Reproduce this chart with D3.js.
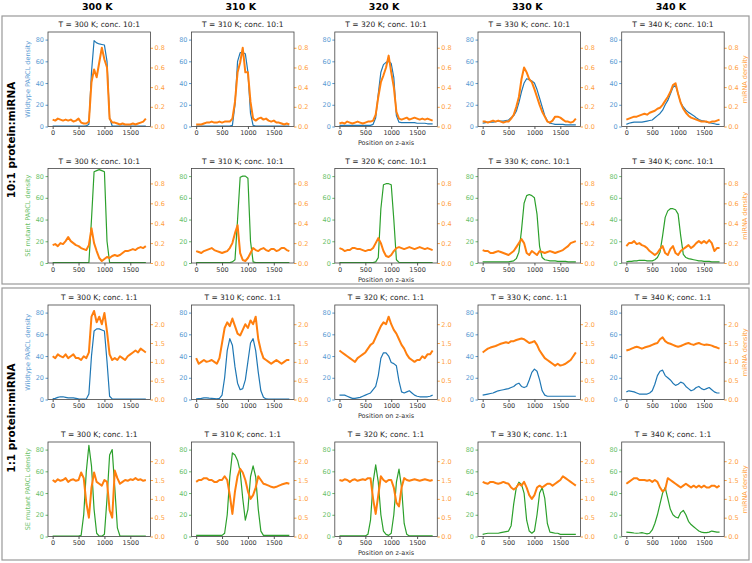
<!DOCTYPE html>
<html>
<head>
<meta charset="utf-8">
<script src="https://cdn.jsdelivr.net/npm/d3@7"></script>
<style>
  body { margin: 0; background: #fff; }
  text { font-family: "DejaVu Sans", sans-serif; }
</style>
</head>
<body>
<div id="chart"></div>
<script>
// position on z-axis for every sample
const zPos = [0,50,100,150,200,250,300,350,400,450,500,550,600,650,700,750,800,850,900,950,
              1000,1050,1100,1150,1200,1250,1300,1350,1400,1450,1500,1550,1600,1650,1700,1750,1800];
const temps = [300, 310, 320, 330, 340];
const xTicks = [0, 500, 1000, 1500];
const leftTicks = [0, 20, 40, 60, 80];
const rightTicks10 = [0, 0.2, 0.4, 0.6, 0.8];
const rightTicks1 = [0, 0.5, 1.0, 1.5, 2.0];

// ---- 10:1, wildtype PARCL (blue) + miRNA (orange)
const wt10_300 = [0.3,0.3,0.3,0.3,0.3,0.3,0.3,0.3,0.3,0.3, 0.3,0.3,0.3,0.5,2,50,79,77,76,75.5, 75,60,8,0.5,0.3,0.3,0.3,0.3,0.3,0.3, 0.3,0.3,0.3,0.3,0.3,0.3,0.3];
const mi10_300 = [0.07,0.06,0.08,0.07,0.06,0.07,0.06,0.07,0.05,0.06, 0.08,0.04,0.03,0.03,0.05,0.45,0.58,0.5,0.65,0.8, 0.68,0.6,0.08,0.04,0.04,0.03,0.02,0.03,0.02,0.02, 0.02,0.03,0.02,0.03,0.04,0.05,0.08];
const wt10_310 = [0.3,0.3,0.3,0.3,0.3,0.3,0.3,0.3,0.3,0.3, 0.3,0.3,0.3,0.3,1,20,60,68,68,67, 50,12,1,0.3,0.3,0.3,0.3,0.3,0.3,0.3, 0.3,0.3,0.3,0.3,0.3,0.3,0.3];
const mi10_310 = [0.02,0.02,0.02,0.03,0.04,0.04,0.05,0.04,0.04,0.05, 0.04,0.05,0.05,0.05,0.08,0.25,0.55,0.65,0.8,0.55, 0.55,0.25,0.08,0.06,0.08,0.09,0.07,0.08,0.06,0.05, 0.06,0.04,0.04,0.03,0.02,0.03,0.02];
const wt10_320 = [1,1,1,1,1,1,1,1,1,1, 1,1,1,2,8,30,50,57,59,60, 58,45,10,4,3.5,3.5,3.5,3.5,3.5,3.5, 3,3,3,3,2.5,2.5,2.5];
const mi10_320 = [0.03,0.04,0.03,0.05,0.04,0.03,0.04,0.05,0.04,0.03, 0.04,0.05,0.05,0.06,0.12,0.3,0.45,0.52,0.6,0.72, 0.55,0.4,0.15,0.08,0.07,0.08,0.09,0.07,0.08,0.09, 0.08,0.07,0.08,0.07,0.08,0.07,0.06];
const wt10_330 = [3,3.5,4,4,4,4.5,5,5,5,5.5, 6,8,10,14,22,32,40,44,43,42, 40,34,26,18,10,5,3,2.5,2,2, 2,2,1.5,1.5,1.5,1.5,1.5];
const mi10_330 = [0.05,0.05,0.04,0.05,0.06,0.05,0.06,0.05,0.04,0.05, 0.05,0.08,0.12,0.2,0.3,0.48,0.6,0.55,0.48,0.45, 0.38,0.3,0.22,0.15,0.1,0.05,0.04,0.06,0.1,0.1, 0.09,0.07,0.05,0.05,0.04,0.05,0.08];
const wt10_340 = [2,3,3.5,4,4,4,4,4.5,5,5.5, 6,8,10,12,15,20,24,30,36,38, 30,22,18,15,13,11.5,10,8,6.5,5.5, 5,4,3.5,3,2.5,2,2];
const mi10_340 = [0.07,0.08,0.09,0.1,0.1,0.11,0.12,0.13,0.12,0.14, 0.15,0.16,0.18,0.19,0.22,0.26,0.3,0.35,0.42,0.44, 0.33,0.24,0.18,0.14,0.11,0.09,0.08,0.07,0.06,0.05, 0.05,0.05,0.04,0.05,0.05,0.06,0.07];

// ---- 10:1, SE mutant PARCL (green) + miRNA (orange)
const se10_300 = [0.3,0.3,0.3,0.3,0.3,0.3,0.3,0.3,0.3,0.3, 0.3,0.3,0.3,0.3,0.5,40,84,85,86,85, 84,20,0.5,0.3,0.3,0.3,0.3,0.3,0.3,0.3, 0.3,0.3,0.3,0.3,0.3,0.3,0.3];
const mi10s_300 = [0.18,0.19,0.17,0.2,0.19,0.22,0.26,0.22,0.2,0.18, 0.17,0.15,0.14,0.13,0.18,0.35,0.2,0.12,0.05,0.02, 0.04,0.06,0.05,0.07,0.08,0.07,0.08,0.1,0.12,0.12, 0.13,0.14,0.13,0.15,0.16,0.15,0.17];
const se10_310 = [0.3,0.3,0.3,0.3,0.3,0.3,0.3,0.3,0.3,0.3, 0.3,0.3,0.3,0.3,1,3,40,79,80,80, 78,20,1,0.3,0.3,0.3,0.3,0.3,0.3,0.3, 0.3,0.3,0.3,0.3,0.3,0.3,0.3];
const mi10s_310 = [0.12,0.11,0.1,0.12,0.13,0.14,0.15,0.13,0.12,0.11, 0.1,0.11,0.12,0.15,0.2,0.3,0.38,0.1,0.03,0.02, 0.05,0.1,0.15,0.13,0.12,0.14,0.15,0.13,0.12,0.14, 0.14,0.12,0.13,0.15,0.15,0.13,0.12];
const se10_320 = [0.3,0.3,0.3,0.3,0.3,0.3,0.3,0.3,0.3,0.3, 0.3,0.3,0.3,0.3,1,5,50,72,73,73, 72,40,3,0.5,0.3,0.3,0.3,0.3,0.3,0.3, 0.3,0.3,0.3,0.3,0.3,0.3,0.3];
const mi10s_320 = [0.15,0.14,0.12,0.13,0.13,0.15,0.15,0.14,0.14,0.13, 0.12,0.13,0.13,0.15,0.2,0.25,0.2,0.12,0.07,0.06, 0.08,0.12,0.15,0.16,0.15,0.14,0.15,0.16,0.15,0.14, 0.15,0.16,0.15,0.14,0.15,0.14,0.13];
const se10_330 = [1,1,1,1,1,1,1,1,1,1, 1,1.5,2,4,10,30,55,62,63,62, 60,45,15,5,3,2.5,2,2,2,1.5, 1.5,1.5,1.5,1,1,1,1];
const mi10s_330 = [0.13,0.12,0.12,0.1,0.1,0.11,0.12,0.11,0.1,0.09, 0.08,0.1,0.12,0.16,0.2,0.24,0.2,0.1,0.08,0.12, 0.1,0.08,0.12,0.11,0.1,0.11,0.12,0.11,0.1,0.11, 0.12,0.13,0.15,0.17,0.2,0.21,0.22];
const se10_340 = [1,1.5,1.5,2,2,2.5,2.5,2.5,2,2, 2,3,5,10,25,42,48,50,50,49, 45,25,8,5,4,3.5,3,2.5,2,2, 1.5,1.5,1.5,1,1,1,1];
const mi10s_340 = [0.17,0.2,0.2,0.22,0.19,0.2,0.18,0.17,0.15,0.12, 0.1,0.08,0.1,0.14,0.17,0.1,0.08,0.14,0.17,0.1, 0.08,0.12,0.14,0.16,0.18,0.15,0.17,0.2,0.22,0.2, 0.22,0.2,0.23,0.2,0.12,0.15,0.15];

// ---- 1:1, wildtype PARCL (blue) + miRNA (orange)
const wt1_300 = [0.5,1,2,2.5,2.5,2,1.5,1.5,1.5,1, 0.5,0.3,0.3,0.5,5,40,63,65,65,64, 63,35,3,0.5,0.3,0.3,0.3,0.3,0.3,0.3, 0.3,0.3,0.3,0.3,0.3,0.3,0.3];
const mi1_300 = [1.15,1.1,1.2,1.15,1.12,1.2,1.1,1.15,1.2,1.1, 1.1,1.05,1.15,1.1,1.25,2.2,2.35,2.05,2.2,2.0, 2.3,1.8,1.2,1.05,1.1,1.05,1.15,1.1,1.05,1.15, 1.2,1.25,1.3,1.25,1.35,1.3,1.25];
const wt1_310 = [0.5,0.8,1,1.5,1.5,1.2,1,0.8,0.5,1, 4,20,45,56,50,30,15,9,10,18, 35,52,56,45,25,8,2,0.5,0.3,0.3, 0.3,0.3,0.3,0.3,0.3,0.3,0.3];
const mi1_310 = [1.1,0.95,1.0,1.05,1.0,1.02,1.05,1.0,0.95,1.1, 1.5,1.9,2.05,1.95,2.15,1.95,1.75,1.7,1.85,2.0, 1.9,2.1,2.0,2.2,1.6,1.3,1.1,1.05,1.0,0.95, 1.0,1.05,1.0,0.95,1.0,1.05,1.05];
const wt1_320 = [4,4,4,3,2,1,1,1.5,2,3, 4,5,6,9,12,22,38,43,43,40, 34,33,31,17,7,6,7,8,6,4, 3,2.5,2.5,2.5,2.5,3,4];
const mi1_320 = [1.3,1.25,1.2,1.15,1.1,1.05,1.0,1.1,1.15,1.2, 1.25,1.35,1.45,1.5,1.65,1.8,1.95,2.05,2.0,2.2, 2.0,1.85,1.75,1.6,1.45,1.35,1.2,1.1,1.05,1.0, 1.05,1.05,1.15,1.1,1.2,1.2,1.3];
const wt1_330 = [4,4.5,5,5.5,6,7,8,8.5,9,9.5, 10,11,12,14,15,12,11,12,18,25, 28,26,18,8,4,3,3,3,3,3, 3,3,3,3,3,3,3];
const mi1_330 = [1.25,1.3,1.35,1.38,1.4,1.42,1.45,1.48,1.5,1.52, 1.5,1.55,1.55,1.58,1.6,1.62,1.6,1.55,1.5,1.52, 1.55,1.45,1.3,1.2,1.1,1.05,1.0,0.95,0.9,0.95, 0.9,0.92,0.95,1.0,1.05,1.15,1.25];
const wt1_340 = [7,8,7.5,7,6,5,5,5,5,6, 8,14,22,26,27,22,20,18,15,13, 14,16,15,12,10,8,9,11,12,10, 9,10,11,9,7,6,6];
const mi1_340 = [1.3,1.32,1.35,1.38,1.4,1.38,1.35,1.38,1.4,1.42, 1.45,1.48,1.5,1.6,1.65,1.55,1.5,1.48,1.45,1.42, 1.4,1.42,1.45,1.48,1.5,1.47,1.45,1.48,1.5,1.47, 1.45,1.46,1.45,1.43,1.4,1.38,1.35];

// ---- 1:1, SE mutant PARCL (green) + miRNA (orange)
const se1_300 = [0.3,0.3,0.3,0.3,0.3,0.3,0.3,0.3,0.3,0.3, 0.3,1,20,60,84,65,25,3,0.3,0.3, 2,35,75,80,45,8,0.5,0.3,0.3,0.3, 0.3,0.3,0.3,0.3,0.3,0.3,0.3];
const mi1s_300 = [1.5,1.45,1.52,1.48,1.5,1.55,1.45,1.5,1.52,1.48, 1.5,1.7,1.55,0.9,0.5,1.3,1.7,1.45,1.4,1.35, 1.5,1.45,0.7,0.5,1.75,1.55,1.4,1.45,1.5,1.48, 1.52,1.5,1.55,1.5,1.52,1.48,1.5];
const se1_310 = [1,1,1,1,1,1,1,1,1,1, 1,3,20,55,77,75,70,60,35,15, 25,55,65,55,25,5,1,1,1,1, 1,1,1,1,1,1,1];
const mi1s_310 = [1.45,1.5,1.5,1.55,1.55,1.5,1.5,1.45,1.45,1.5, 1.5,1.6,1.5,1.1,0.6,1.2,1.6,1.8,1.7,1.5, 1.2,1.0,1.1,1.3,1.6,1.5,1.4,1.38,1.35,1.32, 1.3,1.32,1.35,1.38,1.4,1.42,1.4];
const se1_320 = [0.5,0.5,0.5,0.5,0.5,0.5,0.5,0.5,0.5,0.5, 0.5,2,15,50,66,50,20,5,2,1, 3,20,50,62,45,12,2,0.5,0.5,0.5, 0.5,0.5,0.5,0.5,0.5,0.5,0.5];
const mi1s_320 = [1.5,1.48,1.52,1.5,1.45,1.5,1.52,1.48,1.5,1.52, 1.5,1.55,1.55,1.0,0.6,1.1,1.6,1.5,1.45,1.5, 1.5,1.3,0.9,0.8,1.3,1.55,1.5,1.48,1.5,1.52, 1.5,1.48,1.5,1.52,1.5,1.48,1.5];
const se1_330 = [2,2.5,3,3,3,3,3,3.5,4,4.5, 5,10,30,45,50,48,40,15,5,3, 5,20,40,45,35,12,4,3.5,3,3, 2,2,2,2,2,2,2];
const mi1s_330 = [1.45,1.42,1.4,1.45,1.45,1.42,1.4,1.42,1.45,1.42, 1.4,1.3,1.25,1.3,1.4,1.35,1.45,1.3,1.1,1.0, 1.1,1.3,1.35,1.3,1.35,1.4,1.4,1.35,1.4,1.45, 1.5,1.6,1.55,1.5,1.45,1.4,1.35];
const se1_340 = [4,3.8,3.5,3.2,3,3.2,3.5,3,2.4,3, 6,12,20,30,40,45,35,25,20,18, 17,22,24,20,14,11,9,7,5,4, 3.5,3.5,4,5,4.5,4,4];
const mi1s_340 = [1.4,1.45,1.5,1.55,1.55,1.5,1.5,1.5,1.48,1.5, 1.45,1.5,1.45,1.3,1.2,1.25,1.55,1.5,1.45,1.4, 1.35,1.3,1.35,1.4,1.35,1.3,1.35,1.3,1.35,1.3, 1.35,1.3,1.3,1.35,1.35,1.3,1.35];

const blue = "#1f77b4", green = "#2ca02c", orange = "#ff7f0e";
const blueText = "#5a9bd3", greenText = "#6abf6a", orangeText = "#ffa040";

const rows = [
  {conc: "10:1", prot: [wt10_300, wt10_310, wt10_320, wt10_330, wt10_340],
   mirna: [mi10_300, mi10_310, mi10_320, mi10_330, mi10_340],
   color: blue, tcolor: blueText, label: "Wildtype PARCL density", rMax: 0.96, rTicks: rightTicks10},
  {conc: "10:1", prot: [se10_300, se10_310, se10_320, se10_330, se10_340],
   mirna: [mi10s_300, mi10s_310, mi10s_320, mi10s_330, mi10s_340],
   color: green, tcolor: greenText, label: "SE mutant PARCL density", rMax: 0.95, rTicks: rightTicks10},
  {conc: "1:1", prot: [wt1_300, wt1_310, wt1_320, wt1_330, wt1_340],
   mirna: [mi1_300, mi1_310, mi1_320, mi1_330, mi1_340],
   color: blue, tcolor: blueText, label: "Wildtype PARCL density", rMax: 2.51, rTicks: rightTicks1},
  {conc: "1:1", prot: [se1_300, se1_310, se1_320, se1_330, se1_340],
   mirna: [mi1s_300, mi1s_310, mi1s_320, mi1s_330, mi1s_340],
   color: green, tcolor: greenText, label: "SE mutant PARCL density", rMax: 2.51, rTicks: rightTicks1}
];

const W = 752, H = 563;
const colLeft = [48, 191.5, 334.8, 478, 621.7];
const rowTop = [32, 168.5, 305, 442];
const pw = 102.5, ph = 94.5;

const svg = d3.select("#chart").append("svg")
  .attr("width", W).attr("height", H);

// the two group boxes
svg.append("rect").attr("x", 2).attr("y", 16).attr("width", 747).attr("height", 268)
  .attr("fill", "none").attr("stroke", "#999").attr("stroke-width", 1.2);
svg.append("rect").attr("x", 2).attr("y", 288).attr("width", 747).attr("height", 272)
  .attr("fill", "none").attr("stroke", "#999").attr("stroke-width", 1.2);

// column headers
temps.forEach((t, i) => {
  svg.append("text")
    .attr("x", colLeft[i] + pw / 2 - 2).attr("y", 7)
    .attr("dominant-baseline", "middle")
    .attr("text-anchor", "middle")
    .attr("font-weight", "bold").attr("font-size", 9.5)
    .text(t + " K");
});

// row group labels
[["10:1 protein:miRNA", 140], ["1:1 protein:miRNA", 418]].forEach(([txt, cy]) => {
  svg.append("text")
    .attr("transform", `translate(12,${cy}) rotate(-90)`)
    .attr("dominant-baseline", "middle")
    .attr("text-anchor", "middle")
    .attr("font-weight", "bold").attr("font-size", 10.5)
    .text(txt);
});

const x = d3.scaleLinear().domain([-90, 1890]).range([0, pw]);
const yL = d3.scaleLinear().domain([0, 87]).range([ph, 0]);

rows.forEach((row, r) => {
  const yR = d3.scaleLinear().domain([0, row.rMax]).range([ph, 0]);
  temps.forEach((t, c) => {
    const g = svg.append("g").attr("transform", `translate(${colLeft[c]},${rowTop[r]})`);
    const clipId = `clip-${r}-${c}`;
    g.append("clipPath").attr("id", clipId)
      .append("rect").attr("width", pw).attr("height", ph);

    // title
    g.append("text")
      .attr("x", pw / 2).attr("y", -7)
      .attr("dominant-baseline", "middle")
      .attr("text-anchor", "middle")
      .attr("font-size", 7.5).attr("fill", "#222")
      .text(`T = ${t} K; conc. ${row.conc}`);

    const protLine = d3.line().x((d, i) => x(zPos[i])).y(d => yL(d));
    const miLine = d3.line().x((d, i) => x(zPos[i])).y(d => yR(d));

    const plot = g.append("g").attr("clip-path", `url(#${clipId})`);
    plot.append("path").datum(row.prot[c])
      .attr("fill", "none").attr("stroke", row.color)
      .attr("stroke-width", 1.2).attr("stroke-linejoin", "round")
      .attr("d", protLine);
    plot.append("path").datum(row.mirna[c])
      .attr("fill", "none").attr("stroke", orange)
      .attr("stroke-width", 2).attr("stroke-linejoin", "round")
      .attr("d", miLine);

    // axes
    const ax = g.append("g").attr("transform", `translate(0,${ph})`)
      .call(d3.axisBottom(x).tickValues(xTicks).tickFormat(d3.format("d")).tickSize(2.5).tickPadding(1.5));
    ax.selectAll("text").attr("font-size", 6.5).attr("fill", "#333").style("font-family", "DejaVu Sans");
    ax.selectAll("line").attr("stroke", "#555");
    ax.select(".domain").remove();

    const al = g.append("g")
      .call(d3.axisLeft(yL).tickValues(leftTicks).tickSize(2.5).tickPadding(1.5));
    al.selectAll("text").attr("font-size", 6.5).attr("fill", row.tcolor).style("font-family", "DejaVu Sans");
    al.selectAll("line").attr("stroke", row.tcolor);
    al.select(".domain").remove();

    const ar = g.append("g").attr("transform", `translate(${pw},0)`)
      .call(d3.axisRight(yR).tickValues(row.rTicks).tickFormat(d3.format(".1f")).tickSize(2.5).tickPadding(1.5));
    ar.selectAll("text").attr("font-size", 6.5).attr("fill", orangeText).style("font-family", "DejaVu Sans");
    ar.selectAll("line").attr("stroke", orangeText);
    ar.select(".domain").remove();

    g.append("rect").attr("width", pw).attr("height", ph)
      .attr("fill", "none").attr("stroke", "#444").attr("stroke-width", 0.8);

    if (c === 0) {
      g.append("text")
        .attr("transform", `translate(-20,${ph / 2}) rotate(-90)`)
        .attr("text-anchor", "middle").attr("dominant-baseline", "middle")
        .attr("font-size", 6.5).attr("fill", row.tcolor)
        .text(row.label);
    }
    if (c === 4) {
      g.append("text")
        .attr("transform", `translate(${pw + 21.5},${ph / 2}) rotate(-90)`)
        .attr("text-anchor", "middle").attr("dominant-baseline", "middle")
        .attr("font-size", 6.5).attr("fill", orangeText)
        .text("miRNA density");
    }
    if (c === 2) {
      g.append("text")
        .attr("x", pw / 2).attr("y", ph + 17)
        .attr("text-anchor", "middle").attr("dominant-baseline", "middle")
        .attr("font-size", 6.5).attr("fill", "#333")
        .text("Position on z-axis");
    }
  });
});
</script>
</body>
</html>
